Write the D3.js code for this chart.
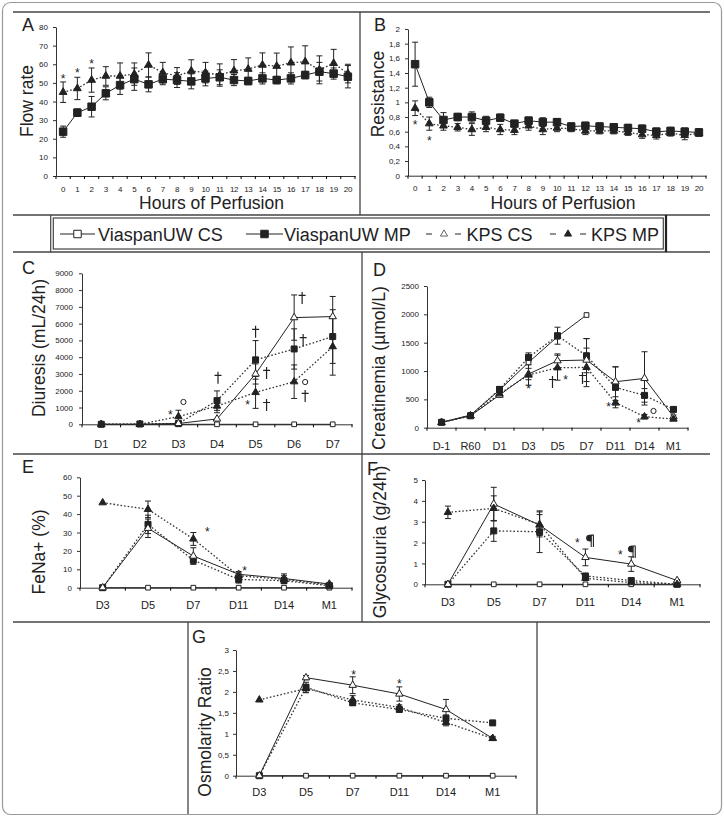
<!DOCTYPE html>
<html>
<head>
<meta charset="utf-8">
<script src="https://cdn.jsdelivr.net/npm/d3@7"></script>
<style>
  body { margin: 0; background: #fff; }
  svg { display: block; font-family: "Liberation Sans", Arial, sans-serif; }
</style>
</head>
<body>
<svg id="fig" width="724" height="817"></svg>
<script>
/* global d3 */

// Panel A: flow rate over hours of perfusion
const hours = [0, 1, 2, 3, 4, 5, 6, 7, 8, 9, 10, 11, 12, 13, 14, 15, 16, 17, 18, 19, 20]
const flowTicks = [0, 10, 20, 30, 40, 50, 60, 70, 80]
const flowUwMp = [23.8, 34, 37.2, 44.4, 48.8, 52, 49.2, 52, 51.5, 50.8, 52.4, 53, 51.5, 51, 52.4, 51.5, 52.4, 54.2, 56, 55, 53.3]
const flowUwMpErr = [3, 2, 5.5, 3.5, 5, 6, 4, 3, 4, 4, 4, 4, 3, 2, 3, 2, 3, 2, 5, 3, 6]
const flowKpsMp = [45, 47, 51.5, 53.7, 53.7, 54.7, 59.6, 55.5, 53.7, 56.4, 55.5, 54.2, 56.5, 57.4, 59.6, 59, 60.8, 61.4, 57, 60.5, 55]
const flowKpsMpErr = [5.5, 6, 6.5, 5, 7, 6, 6.5, 5.5, 4.5, 6, 5.5, 6, 6, 6, 6.5, 7, 8.5, 8.5, 7.5, 7.5, 5]

// Panel B: resistance
const resTicks = [0, 0.2, 0.4, 0.6, 0.8, 1, 1.2, 1.4, 1.6, 1.8, 2]
const resUwMp = [1.52, 1.0, 0.76, 0.8, 0.8, 0.75, 0.79, 0.71, 0.75, 0.73, 0.73, 0.67, 0.68, 0.67, 0.66, 0.65, 0.64, 0.6, 0.61, 0.6, 0.59]
const resUwMpErr = [0.3, 0.07, 0.1, 0.05, 0.07, 0.06, 0.05, 0.04, 0.05, 0.06, 0.05, 0.05, 0.05, 0.05, 0.05, 0.05, 0.05, 0.05, 0.05, 0.05, 0.05]
const resKpsMp = [0.92, 0.71, 0.68, 0.66, 0.63, 0.66, 0.63, 0.62, 0.68, 0.63, 0.65, 0.64, 0.61, 0.61, 0.61, 0.59, 0.56, 0.55, 0.58, 0.55, 0.58]
const resKpsMpErr = [0.1, 0.09, 0.06, 0.05, 0.08, 0.06, 0.07, 0.06, 0.06, 0.07, 0.05, 0.04, 0.05, 0.04, 0.04, 0.04, 0.05, 0.05, 0.04, 0.06, 0.04]

// Panel C: diuresis
const diuDays = ['D1', 'D2', 'D3', 'D4', 'D5', 'D6', 'D7']
const diuTicks = [0, 1000, 2000, 3000, 4000, 5000, 6000, 7000, 8000, 9000]
const diuUwCs = [0, 0, 0, 0, 0, 0, 0]
const diuUwMp = [0, 20, 50, 1410, 3840, 4490, 5230]
const diuUwMpErr = [0, 0, 0, 580, 1150, 1200, 1600]
const diuKpsCs = [0, 0, 50, 320, 3000, 6360, 6420]
const diuKpsCsErr = [0, 0, 0, 0, 600, 1350, 1200]
const diuKpsMp = [0, 0, 460, 1090, 1900, 2540, 4630]
const diuKpsMpErr = [0, 0, 380, 400, 950, 1000, 1700]

// Panel D: creatinemia
const creaDays = ['D-1', 'R60', 'D1', 'D3', 'D5', 'D7', 'D11', 'D14', 'M1']
const creaTicks = [0, 500, 1000, 1500, 2000, 2500]
const creaUwCs = [94, 223, 664, 1152, 1605, 1988, null, null, null]
const creaUwMp = [94, 210, 676, 1240, 1623, 1270, 711, 570, 323]
const creaUwMpErr = [0, 0, 50, 80, 150, 300, 360, 120, 40]
const creaKpsCs = [94, 210, 576, 947, 1182, 1194, 811, 870, 194]
const creaKpsCsErr = [0, 0, 40, 100, 120, 380, 265, 470, 30]
const creaKpsMp = [94, 210, 600, 930, 1058, 1064, 441, 194, 153]
const creaKpsMpErr = [0, 0, 40, 180, 220, 340, 40, 40, 20]

// Panels E, F, G share the same days
const lateDays = ['D3', 'D5', 'D7', 'D11', 'D14', 'M1']

// Panel E: FeNa+
const fenaTicks = [0, 10, 20, 30, 40, 50, 60]
const fenaUwCs = [0, 0, 0, 0, 0, 0]
const fenaUwMp = [0, 34.4, 15, 4.5, 3.8, 1.1]
const fenaUwMpErr = [0, 5, 2, 2, 1.5, 0.5]
const fenaKpsCs = [0, 32.3, 17.2, 7.3, 5, 2]
const fenaKpsCsErr = [0, 5, 4.5, 1.5, 2.5, 0.5]
const fenaKpsMp = [46.2, 42.6, 26.5, 6.5, 4.5, 1.5]
const fenaKpsMpErr = [0, 4.5, 3.5, 1.5, 2, 0.5]

// Panel F: glycosuria
const glyTicks = [0, 1, 2, 3, 4, 5]
const glyUwCs = [0, 0, 0, 0, 0, 0]
const glyUwMp = [0, 2.56, 2.52, 0.4, 0.18, 0]
const glyUwMpErr = [0, 0.5, 1.0, 0.1, 0.05, 0]
const glyKpsCs = [0, 3.85, 2.84, 1.29, 0.97, 0.18]
const glyKpsCsErr = [0, 0.8, 0.5, 0.4, 0.35, 0.05]
const glyKpsMp = [3.45, 3.64, 2.87, 0.29, 0.08, 0]
const glyKpsMpErr = [0.3, 0.6, 0.6, 0.1, 0.05, 0]

// Panel G: osmolarity ratio
const osmTicks = [0, 0.5, 1, 1.5, 2, 2.5, 3]
const osmUwCs = [0, 0, 0, 0, 0, 0]
const osmUwMp = [0, 2.11, 1.74, 1.58, 1.37, 1.26]
const osmUwMpErr = [0, 0.12, 0.06, 0.05, 0.08, 0.03]
const osmKpsCs = [0, 2.34, 2.16, 1.95, 1.58, 0.89]
const osmKpsCsErr = [0, 0.05, 0.2, 0.17, 0.24, 0.05]
const osmKpsMp = [1.81, 2.08, 1.81, 1.63, 1.27, 0.89]
const osmKpsMpErr = [0, 0.1, 0.1, 0.06, 0.08, 0.03]

const legendLabels = ['ViaspanUW CS', 'ViaspanUW MP', 'KPS CS', 'KPS MP']

// significance marks: panel, category, value, x shift, glyph
const marks = [
  ['A', 0, 53.7, 0, '*'], ['A', 1, 56.6, 0, '*'], ['A', 2, 61.4, 0, '*'],
  ['B', 0, 0.73, 0, '*'], ['B', 1, 0.51, 0, '*'],
  ['C', 'D3', 730, -8, '*'], ['C', 'D3', 1330, 5, 'o'], ['C', 'D4', 2770, 1, '†'],
  ['C', 'D5', 5510, 0, '†'], ['C', 'D5', 3060, 11, '†'], ['C', 'D5', 1330, -8, '*'],
  ['C', 'D5', 1150, 11, '†'], ['C', 'D6', 7530, 8, '†'], ['C', 'D6', 5020, 9, '†'],
  ['C', 'D6', 2520, 11, 'o'], ['C', 'D6', 1690, 11, '†'],
  ['D', 'D3', 736, 0, '*'], ['D', 'D5', 806, -5, '†'], ['D', 'D5', 894, 8, '*'],
  ['D', 'D7', 877, -4, '†'], ['D', 'D11', 418, -7, '*'], ['D', 'D14', 295, 9, 'o'],
  ['D', 'D14', 136, -6, '*'],
  ['E', 'D7', 31.9, 14, '*'], ['E', 'D11', 10.7, 6, '*'],
  ['F', 'D11', 2.12, -8, '*'], ['F', 'D11', 2.07, 5, '¶'], ['F', 'D14', 1.55, -11, '*'],
  ['F', 'D14', 1.55, 1, '¶'],
  ['G', 'D7', 2.47, 1, '*'], ['G', 'D11', 2.24, 0, '*']
]

const ink = '#222'
const svg = d3.select('#fig')
const commaFmt = v => String(+v.toFixed(1)).replace('.', ',')

// Frame and panel separators
svg.append('rect')
  .attr('x', 2.5).attr('y', 2.5).attr('width', 719).attr('height', 812).attr('rx', 8)
  .attr('fill', 'none').attr('stroke', '#999').attr('stroke-width', 1.2)

const rules = [
  [13, 12, 710, 12], [13, 215, 710, 215], [13, 252, 710, 252],
  [13, 454, 710, 454], [13, 622, 710, 622],
  [360, 12, 360, 215], [362, 252, 362, 622],
  [188, 622, 188, 814], [537, 622, 537, 814]
]
svg.append('g').selectAll('line').data(rules).join('line')
  .attr('x1', d => d[0]).attr('y1', d => d[1]).attr('x2', d => d[2]).attr('y2', d => d[3])
  .attr('stroke', '#444').attr('stroke-width', 1.3)

const scales = {}

function drawPanel (p) {
  const g = svg.append('g')
  const x = d3.scaleBand().domain(p.cats).range(p.xr)
  const y = d3.scaleLinear().domain([0, p.yTicks[p.yTicks.length - 1]]).range(p.yr)
  const cx = c => x(c) + x.bandwidth() / 2
  scales[p.id] = { x: cx, y }

  // Axes
  const ya = g.append('g')
    .attr('transform', `translate(${p.xr[0]},0)`)
    .call(d3.axisLeft(y).tickValues(p.yTicks).tickSize(3).tickSizeOuter(0)
      .tickPadding(p.yPad).tickFormat(p.fmt || d3.format('d')))
  ya.attr('font-family', null).attr('font-size', p.yFont)

  const xa = g.append('g')
    .attr('transform', `translate(0,${p.yr[0]})`)
    .call(d3.axisBottom(x).tickSize(0).tickSizeOuter(0).tickPadding(p.xPad))
  xa.attr('font-family', null).attr('font-size', p.xFont)
  if (p.xSpacing) xa.selectAll('text').attr('letter-spacing', p.xSpacing)

  g.append('g').selectAll('line').data(d3.range(p.cats.length + 1)).join('line')
    .attr('x1', i => p.xr[0] + i * x.step()).attr('x2', i => p.xr[0] + i * x.step())
    .attr('y1', p.yr[0]).attr('y2', p.yr[0] + 3)
    .attr('stroke', '#000')

  g.selectAll('.domain, .tick line').attr('stroke', '#333')
  g.selectAll('.tick text').attr('fill', ink)

  const series = p.series.map(s => ({
    ...s,
    pts: p.cats.map((c, i) => ({ c, v: s.values[i], e: s.err ? s.err[i] : 0 }))
      .filter(d => d.v != null)
  }))

  // Lines
  const line = d3.line().x(d => cx(d.c)).y(d => y(d.v))
  series.forEach(s => {
    g.append('path')
      .attr('d', line(s.pts))
      .attr('fill', 'none')
      .attr('stroke', s.dotted ? '#333' : ink)
      .attr('stroke-width', s.dotted ? 1.3 : 1)
      .attr('stroke-dasharray', s.dotted ? '1.6,2' : null)
  })

  // Error bars
  series.forEach(s => {
    const eb = g.append('g').attr('stroke', ink).attr('stroke-width', 1)
    s.pts.filter(d => d.e > 0).forEach(d => {
      const lo = y(Math.max(0, d.v - d.e))
      const hi = y(d.v + d.e)
      eb.append('line').attr('x1', cx(d.c)).attr('x2', cx(d.c)).attr('y1', lo).attr('y2', hi)
      eb.append('line').attr('x1', cx(d.c) - 3).attr('x2', cx(d.c) + 3).attr('y1', lo).attr('y2', lo)
      eb.append('line').attr('x1', cx(d.c) - 3).attr('x2', cx(d.c) + 3).attr('y1', hi).attr('y2', hi)
    })
  })

  // Markers
  series.forEach(s => {
    const type = s.shape === 'sq' ? d3.symbolSquare : d3.symbolTriangle
    const size = s.shape === 'sq' ? (s.filled ? p.sqSize : p.openSqSize) : p.triSize
    g.append('g').selectAll('path').data(s.pts).join('path')
      .attr('transform', d => `translate(${cx(d.c)},${y(d.v)})`)
      .attr('d', d3.symbol(type, size)())
      .attr('fill', s.filled ? ink : '#fff')
      .attr('stroke', ink)
      .attr('stroke-width', 1)
  })

  // Labels
  svg.append('text')
    .attr('x', p.letter[0]).attr('y', p.letter[1])
    .attr('font-size', 18).attr('fill', ink)
    .text(p.id)

  svg.append('text')
    .attr('transform', `translate(${p.yLabel[0]},${p.yLabel[1]}) rotate(-90)`)
    .attr('text-anchor', 'middle')
    .attr('font-size', 17.5).attr('fill', ink)
    .text(p.yTitle)

  if (p.xTitle) {
    svg.append('text')
      .attr('x', (p.xr[0] + p.xr[1]) / 2 + 6).attr('y', 209)
      .attr('text-anchor', 'middle')
      .attr('font-size', 17.5).attr('fill', ink)
      .text(p.xTitle)
  }
}

function fourSeries (cs, mp, mpErr, kcs, kcsErr, kmp, kmpErr) {
  return [
    { values: cs, shape: 'sq', filled: false, dotted: false },
    { values: mp, err: mpErr, shape: 'sq', filled: true, dotted: true },
    { values: kcs, err: kcsErr, shape: 'tri', filled: false, dotted: false },
    { values: kmp, err: kmpErr, shape: 'tri', filled: true, dotted: true }
  ]
}

const small = { sqSize: 36, openSqSize: 22, triSize: 24, yFont: 8, xFont: 11 }

drawPanel({
  id: 'A', cats: hours, xr: [56, 355], yr: [176, 27], yTicks: flowTicks,
  yPad: 5, xPad: 10, yFont: 8, xFont: 8, xSpacing: -0.4,
  sqSize: 56, openSqSize: 30, triSize: 26,
  letter: [22, 31], yLabel: [33, 101], yTitle: 'Flow rate', xTitle: 'Hours of Perfusion',
  series: [
    { values: flowUwMp, err: flowUwMpErr, shape: 'sq', filled: true, dotted: false },
    { values: flowKpsMp, err: flowKpsMpErr, shape: 'tri', filled: true, dotted: true }
  ]
})

drawPanel({
  id: 'B', cats: hours, xr: [408, 706], yr: [175.7, 29], yTicks: resTicks, fmt: commaFmt,
  yPad: 5, xPad: 10, yFont: 8, xFont: 8, xSpacing: -0.4,
  sqSize: 56, openSqSize: 30, triSize: 26,
  letter: [374, 31], yLabel: [384, 94], yTitle: 'Resistance', xTitle: 'Hours of Perfusion',
  series: [
    { values: resUwMp, err: resUwMpErr, shape: 'sq', filled: true, dotted: false },
    { values: resKpsMp, err: resKpsMpErr, shape: 'tri', filled: true, dotted: true }
  ]
})

drawPanel({
  ...small, id: 'C', cats: diuDays, xr: [82, 352], yr: [424.3, 273.3], yTicks: diuTicks,
  yPad: 6, xPad: 16,
  letter: [22, 274], yLabel: [45, 348], yTitle: 'Diuresis (mL/24h)',
  series: fourSeries(diuUwCs, diuUwMp, diuUwMpErr, diuKpsCs, diuKpsCsErr, diuKpsMp, diuKpsMpErr)
})

drawPanel({
  ...small, id: 'D', cats: creaDays, xr: [427, 688], yr: [427.7, 286], yTicks: creaTicks,
  yPad: 5, xPad: 15,
  letter: [373, 276], yLabel: [385, 368], yTitle: 'Creatinemia (µmol/L)',
  series: fourSeries(creaUwCs, creaUwMp, creaUwMpErr, creaKpsCs, creaKpsCsErr, creaKpsMp, creaKpsMpErr)
})

drawPanel({
  ...small, id: 'E', cats: lateDays, xr: [80, 352], yr: [587.7, 477.3], yTicks: fenaTicks,
  yPad: 5, xPad: 14,
  letter: [22, 473], yLabel: [45, 552], yTitle: 'FeNa+ (%)',
  series: fourSeries(fenaUwCs, fenaUwMp, fenaUwMpErr, fenaKpsCs, fenaKpsCsErr, fenaKpsMp, fenaKpsMpErr)
})

drawPanel({
  ...small, id: 'F', cats: lateDays, xr: [425, 700], yr: [584.3, 480], yTicks: glyTicks,
  yPad: 4, xPad: 14,
  letter: [367, 475], yLabel: [386, 542], yTitle: 'Glycosuuria (g/24h)',
  series: fourSeries(glyUwCs, glyUwMp, glyUwMpErr, glyKpsCs, glyKpsCsErr, glyKpsMp, glyKpsMpErr)
})

drawPanel({
  ...small, id: 'G', cats: lateDays, xr: [236, 516], yr: [775.7, 650], yTicks: osmTicks, fmt: commaFmt,
  yPad: 4, xPad: 13,
  letter: [192, 643], yLabel: [211, 732], yTitle: 'Osmolarity Ratio',
  series: fourSeries(osmUwCs, osmUwMp, osmUwMpErr, osmKpsCs, osmKpsCsErr, osmKpsMp, osmKpsMpErr)
})

// Significance glyphs: asterisks as text, the rest drawn as small paths
const glyphs = svg.append('g').attr('fill', ink).attr('stroke', ink)
marks.forEach(m => {
  const gx = scales[m[0]].x(m[1]) + m[3]
  const gy = scales[m[0]].y(m[2])
  if (m[4] === '*') {
    glyphs.append('text')
      .attr('x', gx).attr('y', gy + 6.6)
      .attr('text-anchor', 'middle').attr('font-size', 12).attr('stroke', 'none')
      .text('*')
  } else if (m[4] === 'o') {
    glyphs.append('circle')
      .attr('cx', gx).attr('cy', gy).attr('r', 2.6)
      .attr('fill', 'none').attr('stroke-width', 1)
  } else if (m[4] === '†') {
    glyphs.append('path')
      .attr('d', `M${gx},${gy - 6}V${gy + 6}M${gx - 3.5},${gy - 2.5}H${gx + 3.5}`)
      .attr('fill', 'none').attr('stroke-width', 1.2)
  } else {
    glyphs.append('path')
      .attr('d', `M${gx + 0.5},${gy - 6}H${gx - 1}A3 3 0 0 0 ${gx - 1},${gy}H${gx + 0.5}Z`)
      .attr('stroke-width', 0.8)
    glyphs.append('path')
      .attr('d', `M${gx + 0.5},${gy - 6}H${gx + 3.5}M${gx + 0.8},${gy - 6}V${gy + 6}M${gx + 3},${gy - 6}V${gy + 6}`)
      .attr('fill', 'none').attr('stroke-width', 1.1)
  }
})

// Legend
const legend = svg.append('g')
legend.append('line').attr('x1', 50.7).attr('x2', 50.7).attr('y1', 215).attr('y2', 252)
  .attr('stroke', '#444').attr('stroke-width', 1.2)
legend.append('line').attr('x1', 666).attr('x2', 666).attr('y1', 215).attr('y2', 252)
  .attr('stroke', '#222').attr('stroke-width', 2.2)
legend.append('rect').attr('x', 53.3).attr('y', 218).attr('width', 610).attr('height', 31)
  .attr('fill', 'none').attr('stroke', '#444').attr('stroke-width', 1.2)

const legendItems = [
  { x0: 60, x1: 95, mx: 77.5, tx: 98, shape: 'sq', filled: false, dashed: false },
  { x0: 246, x1: 283, mx: 264.5, tx: 284, shape: 'sq', filled: true, dashed: false },
  { x0: 426, x1: 461, mx: 444, tx: 466.5, shape: 'tri', filled: false, dashed: true },
  { x0: 550, x1: 586, mx: 568, tx: 591, shape: 'tri', filled: true, dashed: true }
]
const ly = 234
legendItems.forEach((it, i) => {
  if (it.dashed) {
    legend.append('line').attr('x1', it.x0).attr('x2', it.x0 + 6).attr('y1', ly).attr('y2', ly).attr('stroke', ink)
    legend.append('line').attr('x1', it.x1 - 6).attr('x2', it.x1).attr('y1', ly).attr('y2', ly).attr('stroke', ink)
  } else {
    legend.append('line').attr('x1', it.x0).attr('x2', it.x1).attr('y1', ly).attr('y2', ly).attr('stroke', ink)
  }
  const type = it.shape === 'sq' ? d3.symbolSquare : d3.symbolTriangle
  const size = it.shape === 'sq' ? 56 : 22
  legend.append('path')
    .attr('transform', `translate(${it.mx},${ly})`)
    .attr('d', d3.symbol(type, size)())
    .attr('fill', it.filled ? ink : '#fff')
    .attr('stroke', it.shape === 'tri' && !it.filled ? '#666' : ink)
  legend.append('text')
    .attr('x', it.tx).attr('y', ly + 6.5)
    .attr('font-size', 18).attr('fill', ink)
    .text(legendLabels[i])
})
</script>
</body>
</html>
